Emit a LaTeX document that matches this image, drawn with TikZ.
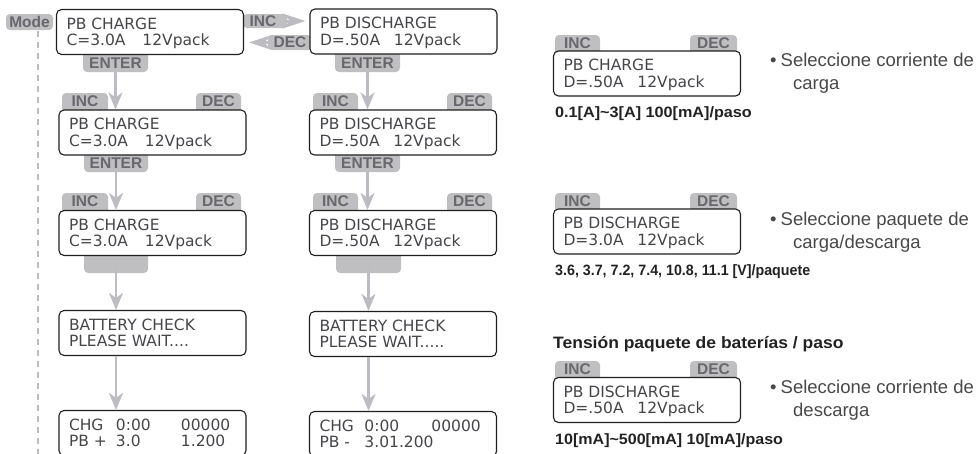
\documentclass[tikz,border=0pt]{standalone}
\usepackage{fontspec}
\setmainfont{Liberation Sans}
\newfontfamily\lcdfont{DejaVu Sans}
\usetikzlibrary{arrows.meta}

\definecolor{tagbg}{RGB}{191,191,194}
\definecolor{tagtxt}{RGB}{104,104,108}
\definecolor{flowc}{RGB}{188,188,194}
\definecolor{lcdtxt}{RGB}{70,70,74}
\definecolor{notetxt}{RGB}{72,72,72}
\definecolor{labtxt}{RGB}{34,34,34}

% two display lines, left aligned, vertically centred on their capitals
\newcommand\lcdlines[2]{\vbox to 45pt{\offinterlineskip\vss
  \hbox to 167pt{\rule{0pt}{11pt}\smash{#1}\hfil}\vskip16.5pt
  \hbox to 167pt{\smash{#2}\hfil}\vss}}

% grey key labels: name, x1, y1, x2, y2, text
\newcommand\toptag[6]{%
  \fill[tagbg, rounded corners=4pt] (#2,#3) rectangle (#4,#5+6);
  \node[tagtext] (#1) at ({(#2+#4)/2},{(#3+#5)/2}) {#6};}
\newcommand\bottag[6]{%
  \fill[tagbg, rounded corners=4pt] (#2,#3-6) rectangle (#4,#5);
  \node[tagtext] (#1) at ({(#2+#4)/2},{(#3+#5)/2}) {#6};}

\tikzset{
  lcd/.style={draw=black!88, line width=1.1pt, rounded corners=5pt, fill=white,
    inner sep=0pt, minimum width=187pt, minimum height=45pt,
    font=\lcdfont\fontsize{15.5}{16.5}\selectfont, text=lcdtxt},
  tagtext/.style={inner sep=0pt, text=tagtxt, font=\bfseries\fontsize{15.5}{15.5}\selectfont},
  flow/.style={draw=flowc, line width=2.6pt, -{Stealth[length=17pt,width=14pt,inset=5pt]}},
  hflow/.style={draw=flowc, line width=3pt, -{Stealth[length=23pt,width=15pt,inset=8pt]}},
  note/.style={inner sep=0pt, text=notetxt, font=\fontsize{18.5}{22}\selectfont},
  lab/.style={inner sep=0pt, text=labtxt, font=\bfseries\fontsize{15}{18}\selectfont},
  modeline/.style={draw=flowc, line width=2.4pt, dash pattern=on 6pt off 5pt},
}

\begin{document}
\begin{tikzpicture}[x=1pt, y=-1pt]
\useasboundingbox (0,0) rectangle (978,453);
\clip (0,0) rectangle (978,453);

% ---------- mode key and its return line ----------
\fill[tagbg, rounded corners=4pt] (6,14) rectangle (53,30);
\node[tagtext] (mode) at (29.5,22) {Mode};
\coordinate (modeend) at (38,460);
\draw[modeline] (mode.south -| modeend) ++(0,3) -- (modeend);

% ---------- key labels (drawn first, boxes cover their feet) ----------
\fill[tagbg, rounded corners=4pt] (243,14) rectangle (287,28);
\node[tagtext] (inc0) at (263,21) {INC};
\fill[tagbg, rounded corners=4pt] (268,35) rectangle (312,50);
\node[tagtext] (dec0) at (290,42.5) {DEC};

\bottag{enter1}{83}{54}{148}{72}{ENTER}
\bottag{enter2}{335}{54}{400}{72}{ENTER}
\toptag{inc1}{62}{93}{108}{110}{INC}
\toptag{dec1}{196}{93}{241}{110}{DEC}
\toptag{inc2}{313}{93}{358}{110}{INC}
\toptag{dec2}{447}{93}{492}{110}{DEC}
\bottag{enter3}{84}{155}{148}{172}{ENTER}
\bottag{enter4}{335}{155}{400}{172}{ENTER}
\toptag{inc3}{62}{193}{108}{210}{INC}
\toptag{dec3}{196}{193}{241}{210}{DEC}
\toptag{inc4}{313}{193}{358}{210}{INC}
\toptag{dec4}{447}{193}{492}{210}{DEC}
\bottag{blank1}{84}{256}{148}{273}{}
\bottag{blank2}{336}{256}{401}{273}{}

% right-hand reference keys
\toptag{rinc1}{555}{35}{600}{51}{INC}
\toptag{rdec1}{690}{35}{737}{51}{DEC}
\toptag{rinc2}{555}{193}{600}{209}{INC}
\toptag{rdec2}{690}{193}{737}{209}{DEC}
\toptag{rinc3}{555}{361}{600}{377}{INC}
\toptag{rdec3}{690}{361}{737}{377}{DEC}

% ---------- display boxes ----------
\node[lcd] (b1) at (150,32) {\lcdlines{PB CHARGE}{\makebox[76pt][l]{C=3.0A}12Vpack}};
\node[lcd] (b2) at (403.5,31.5) {\lcdlines{PB DISCHARGE}{\makebox[74pt][l]{D=.50A}12Vpack}};

\node[lcd] (c2) at (152.5,132.5) {\lcdlines{PB CHARGE}{\makebox[76pt][l]{C=3.0A}12Vpack}};
\node[lcd] (c3) at (152.5,233) {\lcdlines{PB CHARGE}{\makebox[76pt][l]{C=3.0A}12Vpack}};
\node[lcd] (c4) at (152.5,333) {\lcdlines{BATTERY CHECK}{PLEASE WAIT....}};
\node[lcd] (c5) at (152.5,433) {\lcdlines{\makebox[47pt][l]{CHG}\makebox[65pt][l]{0:00}00000}{\makebox[47pt][l]{PB +}\makebox[65pt][l]{3.0}1.200}};

\node[lcd] (d2) at (403,132.5) {\lcdlines{PB DISCHARGE}{\makebox[74pt][l]{D=.50A}12Vpack}};
\node[lcd] (d3) at (403,233) {\lcdlines{PB DISCHARGE}{\makebox[74pt][l]{D=.50A}12Vpack}};
\node[lcd] (d4) at (403,334) {\lcdlines{BATTERY CHECK}{PLEASE WAIT.....}};
\node[lcd] (d5) at (403,434) {\lcdlines{\makebox[45pt][l]{CHG}\makebox[67pt][l]{0:00}00000}{\makebox[45pt][l]{PB -}3.01.200}};

\node[lcd] (r1) at (647,73.5) {\lcdlines{PB CHARGE}{\makebox[74pt][l]{D=.50A}12Vpack}};
\node[lcd] (r2) at (647,231.5) {\lcdlines{PB DISCHARGE}{\makebox[74pt][l]{D=3.0A}12Vpack}};
\node[lcd] (r3) at (647,400) {\lcdlines{PB DISCHARGE}{\makebox[74pt][l]{D=.50A}12Vpack}};

% ---------- flow arrows ----------
\draw[hflow, shorten >=4pt] (inc0.east) ++(8,0) -- (b2.west |- inc0.east);
\draw[hflow, shorten >=5pt] (dec0.west) ++(-4,0) -- (b1.east |- dec0.west);

\draw[flow] (enter1.south) ++(0,3) -- (enter1.south |- c2.north);
\draw[flow] (enter3.south) ++(0,3) -- (enter3.south |- c3.north);
\draw[flow] (blank1.south) ++(0,3) -- (blank1.south |- c4.north);
\draw[flow] (c4.south -| blank1.south) -- (c5.north -| blank1.south);

\draw[flow] (enter2.south) ++(0,3) -- (enter2.south |- d2.north);
\draw[flow] (enter4.south) ++(0,3) -- (enter4.south |- d3.north);
\draw[flow] (blank2.south) ++(0,3) -- (blank2.south |- d4.north);
\draw[flow] (d4.south -| blank2.south) -- (d5.north -| blank2.south);

% ---------- right-hand notes ----------
\node[lab, anchor=base west] (l1) at (555,117) {\scalebox{1.08}[1]{0.1[A]\textasciitilde3[A] 100[mA]/paso}};
\node[lab, anchor=base west] (l2) at (555,275.5) {\scalebox{0.95}[1]{3.6, 3.7, 7.2, 7.4, 10.8, 11.1 [V]/paquete}};
\node[lab, anchor=base west, font=\bfseries\fontsize{16.5}{18}\selectfont] (l3t) at (553,348.5) {\scalebox{1.06}[1]{Tensión paquete de baterías / paso}};
\node[lab, anchor=base west] (l3) at (555,444) {\scalebox{1.07}[1]{10[mA]\textasciitilde500[mA] 10[mA]/paso}};

\node[note, anchor=base west] (n1a) at (770,66.5) {\textbullet\hspace{4pt}Seleccione corriente de};
\node[note, anchor=base west] (n1b) at (793,89.5) {carga};
\node[note, anchor=base west] (n2a) at (770,225) {\textbullet\hspace{4pt}Seleccione paquete de};
\node[note, anchor=base west] (n2b) at (793,248) {carga/descarga};
\node[note, anchor=base west] (n3a) at (770,393) {\textbullet\hspace{4pt}Seleccione corriente de};
\node[note, anchor=base west] (n3b) at (793,416) {descarga};
\end{tikzpicture}
\end{document}
